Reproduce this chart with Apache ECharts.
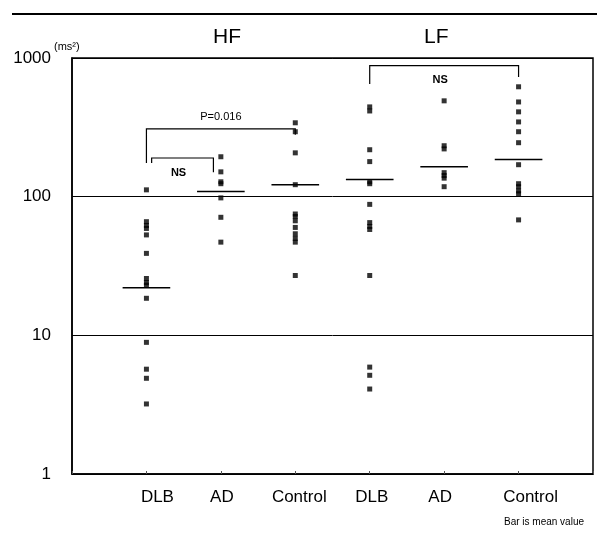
<!DOCTYPE html>
<html><head><meta charset="utf-8">
<script src="https://cdn.jsdelivr.net/npm/echarts@6/dist/echarts.min.js"></script>
<style>html,body{margin:0;padding:0;background:#fff}#c{width:597px;height:536px}</style>
</head><body><div id="c"></div>
<script>
// ---- data ----
const groups = ['DLB', 'AD', 'Control', 'DLB', 'AD', 'Control'];
const hfDLB = [112, 66, 62, 59, 53, 39, 25.7, 24, 23, 18.5, 8.9, 5.7, 4.9, 3.2];
const hfAD = [194, 151, 128, 124, 98, 71, 47];
const hfControl = [341, 294, 207, 122, 75, 72, 67, 60, 54, 50, 47, 27];
const lfDLB = [444, 415, 218, 179, 128, 124, 88, 65, 61, 58, 27, 5.9, 5.15, 4.1];
const lfAD = [491, 233, 221, 149, 142, 136, 118];
const lfControl = [620, 482, 409, 346, 294, 245, 170, 124, 118, 110, 105, 68];
const means = [22, 109, 122, 133, 164, 185];
const yTicks = [1, 10, 100, 1000];
// brackets: [fromGroup, toGroup, topValue, leftLegEnd, rightLegEnd, label]
const brackets = [
  [1, 3, 308, 175, 280, 'P=0.016'],
  [1.07, 1.9, 190, 175, 150, 'NS'],
  [4, 6, 880, 650, 730, 'NS']
];
// ---- layout (styling only) ----
const labelShift = [11, 1, 4, 2, -4, 12];

const allSeries = [hfDLB, hfAD, hfControl, lfDLB, lfAD, lfControl];
const pts = [];
allSeries.forEach((arr, i) => arr.forEach(v => pts.push([i + 1, v])));
const meanData = means.map((m, i) => [i + 1, m]);

const chart = echarts.init(document.getElementById('c'), null, {renderer: 'canvas'});
const font = 'Liberation Sans, Arial, sans-serif';
chart.setOption({
  animation: false,
  backgroundColor: '#fff',
  grid: {left: 72, right: 4, top: 58, bottom: 62, show: true, borderColor: '#000', borderWidth: 1.5},
  xAxis: {
    type: 'value', min: 0, max: 7, interval: 1,
    axisLine: {show: true, lineStyle: {color: '#000', width: 1.5}},
    axisTick: {show: true, inside: true, length: 3, lineStyle: {color: '#555'}},
    splitLine: {show: false},
    axisLabel: {
      margin: 15, color: '#000', fontFamily: font, fontSize: 17,
      formatter: v => (v >= 1 && v <= 6) ? '{s' + v + '|' + groups[v - 1] + '}' : '',
      rich: Object.fromEntries(labelShift.map((s, i) => ['s' + (i + 1), {
        fontFamily: font, fontSize: 17, color: '#000',
        padding: [0, s < 0 ? -2 * s : 0, 0, s > 0 ? 2 * s : 0]
      }]))
    }
  },
  yAxis: {
    type: 'log', logBase: 10, min: 1, max: 1000,
    axisLine: {show: true, lineStyle: {color: '#000', width: 1.5}},
    axisTick: {show: false},
    splitLine: {show: true, lineStyle: {color: '#000', width: 1}},
    minorSplitLine: {show: false},
    axisLabel: {margin: 21, color: '#000', fontFamily: font, fontSize: 17,
      formatter: v => yTicks.indexOf(Math.round(v)) >= 0 ? String(Math.round(v)) : ''}
  },
  graphic: [
    {type: 'line', shape: {x1: 12, y1: 14, x2: 597, y2: 14}, style: {stroke: '#000', lineWidth: 2}},
    {type: 'text', left: 54, top: 41, style: {text: '(ms²)', font: '11px ' + font, fill: '#000'}},
    {type: 'text', left: 213, top: 27, style: {text: 'HF', font: '21px ' + font, fill: '#000'}},
    {type: 'text', left: 424, top: 27, style: {text: 'LF', font: '21px ' + font, fill: '#000'}},
    {type: 'text', right: 13, top: 517, style: {text: 'Bar is mean value', font: '10px ' + font, fill: '#000'}}
  ],
  series: [
    {
      type: 'scatter', data: pts, symbol: 'rect', symbolSize: 5,
      itemStyle: {color: '#000'}, z: 3
    },
    {
      type: 'custom', data: meanData, z: 4,
      renderItem: (params, api) => {
        const x = api.value(0), y = api.value(1);
        const a = api.coord([x - 0.32, y]), b = api.coord([x + 0.32, y]);
        return {type: 'line', shape: {x1: a[0], y1: a[1], x2: b[0], y2: b[1]},
          style: {stroke: '#000', lineWidth: 1.5}};
      }
    },
    {
      type: 'custom', data: brackets.map(b => [b[0], b[1], b[2], b[3], b[4]]), z: 4,
      renderItem: (params, api) => {
        const b = brackets[params.dataIndex];
        const tl = api.coord([b[0], b[2]]), tr = api.coord([b[1], b[2]]);
        const lb = api.coord([b[0], b[3]]), rb = api.coord([b[1], b[4]]);
        const isNS = b[5] === 'NS';
        return {type: 'group', children: [
          {type: 'polyline', shape: {points: [lb, tl, tr, rb]}, style: {stroke: '#000', lineWidth: 1.2, fill: null}},
          {type: 'text', style: {text: b[5], x: (tl[0] + tr[0]) / 2 + (isNS ? -4 : 0), y: tl[1] + (isNS ? 9 : -17),
            font: (isNS ? 'bold ' : '') + '11px ' + font, fill: '#000', align: 'center', verticalAlign: 'top'}}
        ]};
      }
    }
  ]
});
</script></body></html>
